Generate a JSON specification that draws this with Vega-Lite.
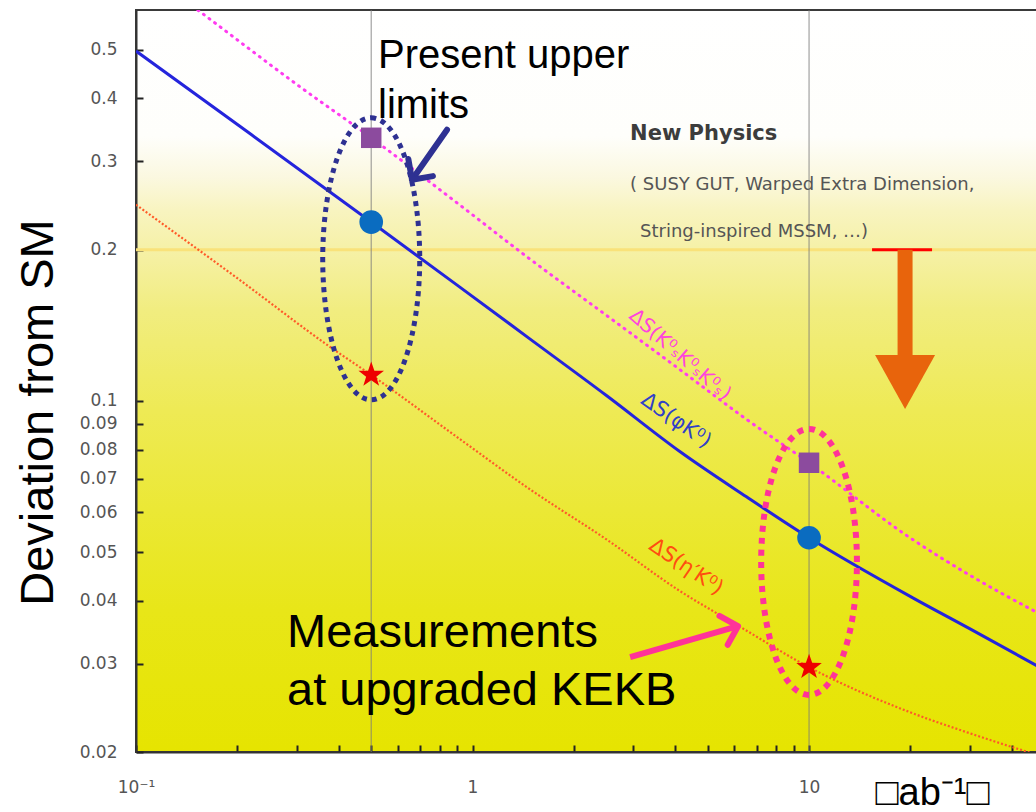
{
  "$schema": "https://vega.github.io/schema/vega-lite/v6.json",
  "width": 902,
  "height": 742,
  "autosize": {"type": "none"},
  "padding": {"left": 136, "top": 10, "right": 0, "bottom": 60},
  "background": "white",
  "config": {
    "view": {
      "stroke": "#3a3a3a", "strokeWidth": 2,
      "fill": {
        "gradient": "linear", "x1": 0, "y1": 0, "x2": 0, "y2": 1,
        "stops": [
          {"offset": 0, "color": "#ffffff"},
          {"offset": 0.17, "color": "#fefefb"},
          {"offset": 0.225, "color": "#fbf8e0"},
          {"offset": 0.27, "color": "#f8f4c0"},
          {"offset": 0.337, "color": "#f5f0a0"},
          {"offset": 0.404, "color": "#f1ed80"},
          {"offset": 0.539, "color": "#eeea55"},
          {"offset": 0.674, "color": "#ebe835"},
          {"offset": 0.809, "color": "#e8e618"},
          {"offset": 1, "color": "#e6e400"}
        ]
      }
    },
    "font": "Liberation Sans"
  },
  "datasets": {
    "curves": [
      {"series": "KsKsKs", "x": 0.1, "y": 0.74},
      {"series": "KsKsKs", "x": 0.152, "y": 0.601},
      {"series": "KsKsKs", "x": 0.307, "y": 0.422},
      {"series": "KsKsKs", "x": 0.5, "y": 0.334},
      {"series": "KsKsKs", "x": 0.875, "y": 0.2514},
      {"series": "KsKsKs", "x": 1.452, "y": 0.1935},
      {"series": "KsKsKs", "x": 2.5, "y": 0.148},
      {"series": "KsKsKs", "x": 4.14, "y": 0.1153},
      {"series": "KsKsKs", "x": 6.5, "y": 0.092},
      {"series": "KsKsKs", "x": 10, "y": 0.0753},
      {"series": "KsKsKs", "x": 19.95, "y": 0.0534},
      {"series": "KsKsKs", "x": 30, "y": 0.0450},
      {"series": "KsKsKs", "x": 48, "y": 0.0378},
      {"series": "phiK", "x": 0.1, "y": 0.497},
      {"series": "phiK", "x": 0.22, "y": 0.339},
      {"series": "phiK", "x": 0.5, "y": 0.227},
      {"series": "phiK", "x": 0.9, "y": 0.170},
      {"series": "phiK", "x": 1.48, "y": 0.1329},
      {"series": "phiK", "x": 2.5, "y": 0.1025},
      {"series": "phiK", "x": 4.14, "y": 0.0792},
      {"series": "phiK", "x": 6.5, "y": 0.0645},
      {"series": "phiK", "x": 10, "y": 0.0534},
      {"series": "phiK", "x": 20.4, "y": 0.0405},
      {"series": "phiK", "x": 30, "y": 0.0352},
      {"series": "phiK", "x": 48, "y": 0.0296},
      {"series": "etapK", "x": 0.1, "y": 0.2458},
      {"series": "etapK", "x": 0.2, "y": 0.1755},
      {"series": "etapK", "x": 0.377, "y": 0.1281},
      {"series": "etapK", "x": 0.5, "y": 0.1126},
      {"series": "etapK", "x": 0.9, "y": 0.0847},
      {"series": "etapK", "x": 1.48, "y": 0.0667},
      {"series": "etapK", "x": 2.5, "y": 0.0530},
      {"series": "etapK", "x": 4.14, "y": 0.0418},
      {"series": "etapK", "x": 6.24, "y": 0.0355},
      {"series": "etapK", "x": 10, "y": 0.0295},
      {"series": "etapK", "x": 19.95, "y": 0.0240},
      {"series": "etapK", "x": 30, "y": 0.0218},
      {"series": "etapK", "x": 48, "y": 0.0197}
    ],
    "markers": [
      {"kind": "square", "x": 0.5, "y": 0.334},
      {"kind": "square", "x": 10, "y": 0.0753},
      {"kind": "circle", "x": 0.5, "y": 0.227},
      {"kind": "circle", "x": 10, "y": 0.0534},
      {"kind": "star", "x": 0.5, "y": 0.1126},
      {"kind": "star", "x": 10, "y": 0.0295}
    ],
    "vlines": [{"x": 0.5}, {"x": 10}],
    "hlines": [{"y": 0.2}],
    "ellipses": [
      {"group": "present", "x": 0.5, "y": 0.1918},
      {"group": "upgraded", "x": 10, "y": 0.0478}
    ],
    "arrows": [
      {"group": "present", "x": 0.84, "y": 0.3465, "x2": 0.661, "y2": 0.2755},
      {"group": "upgraded", "x": 2.94, "y": 0.0309, "x2": 6.15, "y2": 0.0356}
    ],
    "bigarrow": [{"x": 19.29, "y": 0.2, "y2": 0.1207, "head": 0.109}],
    "redbar": [{"x": 15.39, "x2": 23.2, "y": 0.2}],
    "bigtext": [
      {"label": "Present upper", "x": 0.5237, "y": 0.4605, "size": "a"},
      {"label": "limits", "x": 0.5237, "y": 0.3662, "size": "a"},
      {"label": "Measurements", "x": 0.2811, "y": 0.03238, "size": "b"},
      {"label": "at upgraded KEKB", "x": 0.2811, "y": 0.02481, "size": "b"}
    ],
    "np": [
      {"label": "New Physics", "x": 2.939, "y": 0.331, "line": "head"},
      {"label": "( SUSY GUT, Warped Extra Dimension,", "x": 2.939, "y": 0.2632, "line": "sub"},
      {"label": "String-inspired MSSM, …)", "x": 3.147, "y": 0.2121, "line": "sub"}
    ],
    "curvelabels": [
      {"label": "ΔS(K⁰ₛK⁰ₛK⁰ₛ)", "series": "KsKsKs", "x": 4.137, "y": 0.1235},
      {"label": "ΔS(φK⁰)", "series": "phiK", "x": 4.026, "y": 0.0913},
      {"label": "ΔS(η′K⁰)", "series": "etapK", "x": 4.31, "y": 0.0467}
    ]
  },
  "layer": [
    {
      "data": {"name": "hlines"},
      "mark": {"type": "rule", "color": "#f9e27a", "strokeWidth": 3},
      "encoding": {
        "y": {"field": "y", "type": "quantitative",
          "scale": {"type": "log", "domain": [0.02, 0.6], "nice": false},
          "axis": {
            "orient": "left",
            "values": [0.02, 0.03, 0.04, 0.05, 0.06, 0.07, 0.08, 0.09, 0.1, 0.2, 0.3, 0.4, 0.5],
            "format": ".2~f",
            "tickSize": -7, "tickColor": "#222222", "tickWidth": 2,
            "domainColor": "#333333", "domainWidth": 2,
            "labelFont": "DejaVu Sans", "labelFontSize": 17, "labelColor": "#555555",
            "labelPadding": 26, "labelOverlap": false, "labelFlush": false,
            "grid": false,
            "title": "Deviation from SM", "titleFont": "Liberation Sans", "titleFontSize": 47, "titleFontWeight": "normal", "titleColor": "#000000",
            "titleX": -84, "titleY": 402, "titleAlign": "center", "titleBaseline": "alphabetic", "titleAngle": -90
          }}
      }
    },
    {
      "data": {"name": "vlines"},
      "mark": {"type": "rule", "color": "#7a7a7a", "strokeWidth": 1.2, "opacity": 0.7},
      "encoding": {
        "x": {"field": "x", "type": "quantitative",
          "scale": {"type": "log", "domain": [0.1, 47.9], "nice": false},
          "axis": {
            "orient": "bottom",
            "values": [0.1, 0.2, 0.3, 0.4, 0.5, 0.6, 0.7, 0.8, 0.9, 1, 2, 3, 4, 5, 6, 7, 8, 9, 10, 20, 30, 40],
            "labelExpr": "datum.value == 0.1 ? '10⁻¹' : (datum.value == 1 ? '1' : (datum.value == 10 ? '10' : ''))",
            "tickSize": -7,
            "tickColor": "#222222", "tickWidth": 2,
            "domainColor": "#333333", "domainWidth": 2,
            "labelFont": "DejaVu Sans", "labelFontSize": 17, "labelColor": "#555555",
            "labelPadding": 34, "labelOverlap": false, "labelFlush": false,
            "grid": false,
            "title": "□ab⁻¹□", "titleFont": "Liberation Sans", "titleFontSize": 38, "titleFontWeight": "normal", "titleColor": "#000000",
            "titleX": 796, "titleY": 52, "titleAlign": "center", "titleBaseline": "alphabetic"
          }}
      }
    },
    {
      "data": {"name": "curves"},
      "transform": [{"filter": "datum.series == 'KsKsKs'"}],
      "mark": {"type": "line", "clip": true, "interpolate": "monotone", "color": "#ff3cf0", "strokeWidth": 3, "strokeDash": [1, 6], "strokeCap": "round"},
      "encoding": {"x": {"field": "x", "type": "quantitative"}, "y": {"field": "y", "type": "quantitative"}, "order": {"field": "x"}}
    },
    {
      "data": {"name": "curves"},
      "transform": [{"filter": "datum.series == 'etapK'"}],
      "mark": {"type": "line", "clip": true, "interpolate": "monotone", "color": "#ff5a28", "strokeWidth": 2.2, "strokeDash": [2, 2]},
      "encoding": {"x": {"field": "x", "type": "quantitative"}, "y": {"field": "y", "type": "quantitative"}, "order": {"field": "x"}}
    },
    {
      "data": {"name": "curves"},
      "transform": [{"filter": "datum.series == 'phiK'"}],
      "mark": {"type": "line", "clip": true, "interpolate": "monotone", "color": "#2424dc", "strokeWidth": 3},
      "encoding": {"x": {"field": "x", "type": "quantitative"}, "y": {"field": "y", "type": "quantitative"}, "order": {"field": "x"}}
    },
    {
      "data": {"name": "redbar"},
      "mark": {"type": "rule", "color": "#ff0000", "strokeWidth": 3},
      "encoding": {"x": {"field": "x", "type": "quantitative"}, "x2": {"field": "x2"}, "y": {"field": "y", "type": "quantitative"}}
    },
    {
      "data": {"name": "bigarrow"},
      "mark": {"type": "rule", "color": "#e8640c", "strokeWidth": 15},
      "encoding": {"x": {"field": "x", "type": "quantitative"}, "y": {"field": "y", "type": "quantitative"}, "y2": {"field": "y2"}}
    },
    {
      "data": {"name": "bigarrow"},
      "mark": {"type": "point", "shape": "M -1 -0.9 L 1 -0.9 L 0 0.9 Z", "filled": true, "color": "#e8640c", "opacity": 1, "size": 3600},
      "encoding": {"x": {"field": "x", "type": "quantitative"}, "y": {"field": "head", "type": "quantitative"}}
    },
    {
      "data": {"name": "markers"},
      "transform": [{"filter": "datum.kind == 'square'"}],
      "mark": {"type": "point", "shape": "square", "filled": true, "color": "#8c4b9e", "opacity": 1, "size": 420},
      "encoding": {"x": {"field": "x", "type": "quantitative"}, "y": {"field": "y", "type": "quantitative"}}
    },
    {
      "data": {"name": "markers"},
      "transform": [{"filter": "datum.kind == 'circle'"}],
      "mark": {"type": "point", "shape": "circle", "filled": true, "color": "#0a6cc0", "opacity": 1, "size": 560},
      "encoding": {"x": {"field": "x", "type": "quantitative"}, "y": {"field": "y", "type": "quantitative"}}
    },
    {
      "data": {"name": "markers"},
      "transform": [{"filter": "datum.kind == 'star'"}],
      "mark": {"type": "point", "shape": "M0,-1L0.235,-0.324L0.951,-0.309L0.38,0.124L0.588,0.809L0,0.4L-0.588,0.809L-0.38,0.124L-0.951,-0.309L-0.235,-0.324Z", "filled": true, "color": "#ee0000", "opacity": 1, "size": 720},
      "encoding": {"x": {"field": "x", "type": "quantitative"}, "y": {"field": "y", "type": "quantitative"}}
    },
    {
      "data": {"name": "ellipses"},
      "transform": [{"filter": "datum.group == 'present'"}],
      "mark": {"type": "point", "shape": "M 0 -1 A 0.344 1 0 1 1 0 1 A 0.344 1 0 1 1 0 -1 Z", "filled": false, "stroke": "#2e3192", "strokeWidth": 5, "strokeDash": [5, 5], "opacity": 1, "size": 79524},
      "encoding": {"x": {"field": "x", "type": "quantitative"}, "y": {"field": "y", "type": "quantitative"}}
    },
    {
      "data": {"name": "ellipses"},
      "transform": [{"filter": "datum.group == 'upgraded'"}],
      "mark": {"type": "point", "shape": "M 0 -1 A 0.36 1 0 1 1 0 1 A 0.36 1 0 1 1 0 -1 Z", "filled": false, "stroke": "#ff3399", "strokeWidth": 6, "strokeDash": [6, 6], "opacity": 1, "size": 70756},
      "encoding": {"x": {"field": "x", "type": "quantitative"}, "y": {"field": "y", "type": "quantitative"}}
    },
    {
      "data": {"name": "arrows"},
      "transform": [{"filter": "datum.group == 'present'"}],
      "mark": {"type": "rule", "color": "#2e3192", "strokeWidth": 6, "strokeCap": "round"},
      "encoding": {"x": {"field": "x", "type": "quantitative"}, "y": {"field": "y", "type": "quantitative"}, "x2": {"field": "x2"}, "y2": {"field": "y2"}}
    },
    {
      "data": {"name": "arrows"},
      "transform": [{"filter": "datum.group == 'present'"}],
      "mark": {"type": "point", "shape": "M -1 -1 L 0 0 L 1 -1", "filled": false, "stroke": "#2e3192", "strokeWidth": 6, "strokeCap": "round", "strokeJoin": "round", "opacity": 1, "size": 900, "angle": 35},
      "encoding": {"x": {"field": "x2", "type": "quantitative"}, "y": {"field": "y2", "type": "quantitative"}}
    },
    {
      "data": {"name": "arrows"},
      "transform": [{"filter": "datum.group == 'upgraded'"}],
      "mark": {"type": "rule", "color": "#ff3399", "strokeWidth": 6},
      "encoding": {"x": {"field": "x", "type": "quantitative"}, "y": {"field": "y", "type": "quantitative"}, "x2": {"field": "x2"}, "y2": {"field": "y2"}}
    },
    {
      "data": {"name": "arrows"},
      "transform": [{"filter": "datum.group == 'upgraded'"}],
      "mark": {"type": "point", "shape": "M -1 -1 L 0 0 L 1 -1", "filled": false, "stroke": "#ff3399", "strokeWidth": 6, "strokeCap": "round", "strokeJoin": "round", "opacity": 1, "size": 900, "angle": 254},
      "encoding": {"x": {"field": "x2", "type": "quantitative"}, "y": {"field": "y2", "type": "quantitative"}}
    },
    {
      "data": {"name": "bigtext"},
      "transform": [{"filter": "datum.size == 'a'"}],
      "mark": {"type": "text", "align": "left", "baseline": "alphabetic", "font": "Liberation Sans", "fontSize": 40, "color": "#000000"},
      "encoding": {"x": {"field": "x", "type": "quantitative"}, "y": {"field": "y", "type": "quantitative"}, "text": {"field": "label"}}
    },
    {
      "data": {"name": "bigtext"},
      "transform": [{"filter": "datum.size == 'b'"}],
      "mark": {"type": "text", "align": "left", "baseline": "alphabetic", "font": "Liberation Sans", "fontSize": 47, "color": "#000000"},
      "encoding": {"x": {"field": "x", "type": "quantitative"}, "y": {"field": "y", "type": "quantitative"}, "text": {"field": "label"}}
    },
    {
      "data": {"name": "np"},
      "transform": [{"filter": "datum.line == 'head'"}],
      "mark": {"type": "text", "align": "left", "baseline": "alphabetic", "font": "DejaVu Sans", "fontSize": 21, "fontWeight": "bold", "color": "#3c3c3c"},
      "encoding": {"x": {"field": "x", "type": "quantitative"}, "y": {"field": "y", "type": "quantitative"}, "text": {"field": "label"}}
    },
    {
      "data": {"name": "np"},
      "transform": [{"filter": "datum.line == 'sub'"}],
      "mark": {"type": "text", "align": "left", "baseline": "alphabetic", "font": "DejaVu Sans", "fontSize": 18, "color": "#555555"},
      "encoding": {"x": {"field": "x", "type": "quantitative"}, "y": {"field": "y", "type": "quantitative"}, "text": {"field": "label"}}
    },
    {
      "data": {"name": "curvelabels"},
      "transform": [{"filter": "datum.series == 'KsKsKs'"}],
      "mark": {"type": "text", "align": "center", "baseline": "middle", "font": "DejaVu Sans", "fontSize": 20, "color": "#ff44dd", "angle": 41},
      "encoding": {"x": {"field": "x", "type": "quantitative"}, "y": {"field": "y", "type": "quantitative"}, "text": {"field": "label"}}
    },
    {
      "data": {"name": "curvelabels"},
      "transform": [{"filter": "datum.series == 'phiK'"}],
      "mark": {"type": "text", "align": "center", "baseline": "middle", "font": "DejaVu Sans", "fontSize": 21, "color": "#3040c8", "angle": 35},
      "encoding": {"x": {"field": "x", "type": "quantitative"}, "y": {"field": "y", "type": "quantitative"}, "text": {"field": "label"}}
    },
    {
      "data": {"name": "curvelabels"},
      "transform": [{"filter": "datum.series == 'etapK'"}],
      "mark": {"type": "text", "align": "center", "baseline": "middle", "font": "DejaVu Sans", "fontSize": 21, "color": "#ff4d10", "angle": 34},
      "encoding": {"x": {"field": "x", "type": "quantitative"}, "y": {"field": "y", "type": "quantitative"}, "text": {"field": "label"}}
    }
  ]
}
